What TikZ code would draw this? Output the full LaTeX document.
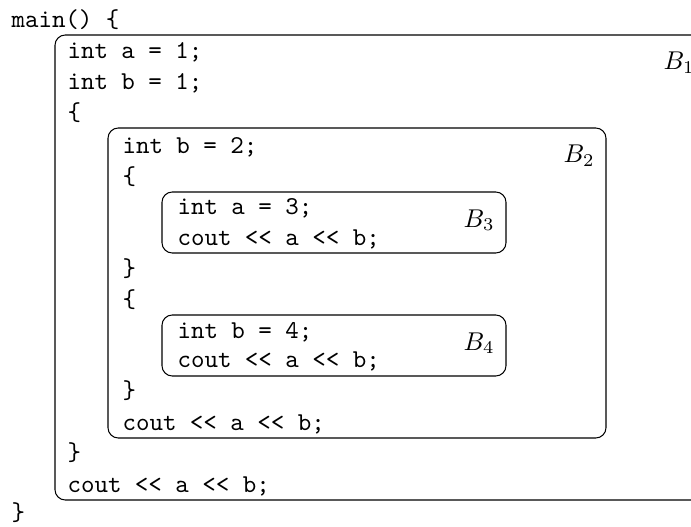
\documentclass[tikz,border=0pt]{standalone}
\def\shl{<\kern0pt<}

\begin{document}
\begin{tikzpicture}[x=0.389pt,y=-0.389pt,
	code/.style={anchor=base west,inner sep=0pt,font=\ttfamily},
	tag/.style={anchor=base west,inner sep=0pt},
	blk/.style={rounded corners=4pt}]
	%%%%% START %%%%%
	\def\xa{11}
	\def\xb{67}
	\def\xc{122}
	\def\xd{177}
	\useasboundingbox (0,0) rectangle (691,527);
	\clip (0,0) rectangle (691,527);
	
	% block outlines
	\draw[blk] (730,35) -- (55,35) -- (55,500) -- (730,500);
	\draw[blk] (108,128) rectangle (606,438);
	\draw[blk] (162,192) rectangle (506,253);
	\draw[blk] (162,315) rectangle (506,376);
	
	% block names
	\node[tag] (bone) at (663,70) {$B_1$};
	\node[tag] (btwo) at (563,163) {$B_2$};
	\node[tag] (bthree) at (463,227) {$B_3$};
	\node[tag] (bfour) at (463,350) {$B_4$};
	
	% source lines
	\node[code] (main) at (\xa,28) {main() \{};
	\node[code] (inta) at (\xb,59) {int a = 1;};
	\node[code] (intb) at (\xb,90) {int b = 1;};
	\node[code] (opentwo) at (\xb,121) {\{};
	\node[code] (intbtwo) at (\xc,153) {int b = 2;};
	\node[code] (openthree) at (\xc,184) {\{};
	\node[code] (intathree) at (\xd,215) {int a = 3;};
	\node[code] (outthree) at (\xd,245) {cout \shl{} a \shl{} b;};
	\node[code] (closethree) at (\xc,276) {\}};
	\node[code] (openfour) at (\xc,307) {\{};
	\node[code] (intbfour) at (\xd,338) {int b = 4;};
	\node[code] (outfour) at (\xd,367) {cout \shl{} a \shl{} b;};
	\node[code] (closefour) at (\xc,398) {\}};
	\node[code] (outtwo) at (\xc,430) {cout \shl{} a \shl{} b;};
	\node[code] (closetwo) at (\xb,460) {\}};
	\node[code] (outone) at (\xb,492) {cout \shl{} a \shl{} b;};
	\node[code] (closemain) at (\xa,520) {\}};
	%%%%% START %%%%%
\end{tikzpicture}
\end{document}
